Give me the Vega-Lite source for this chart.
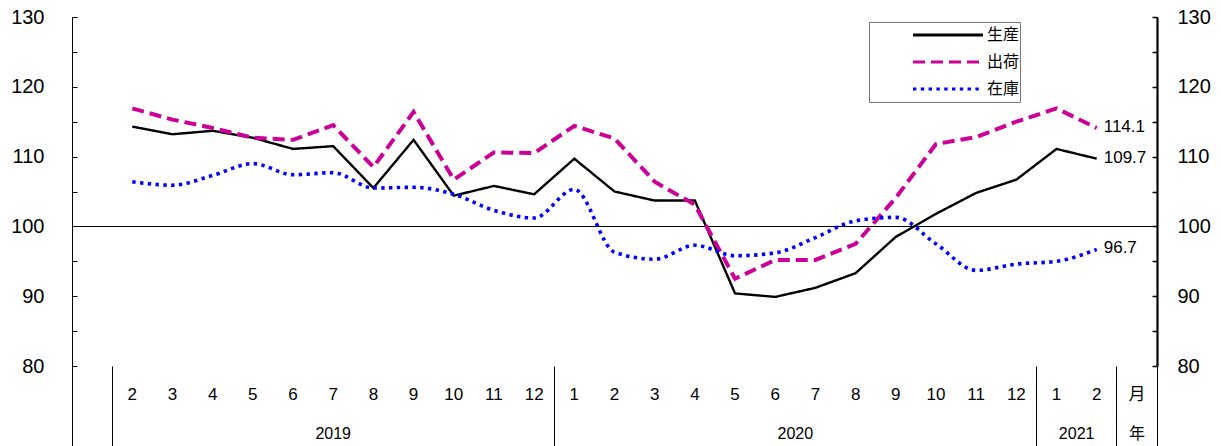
{
  "$schema": "https://vega.github.io/schema/vega-lite/v6.json",
  "width": 1085,
  "height": 349,
  "autosize": {"type": "none"},
  "padding": {"left": 72, "top": 17, "right": 64, "bottom": 80},
  "background": "white",
  "config": {
    "view": {"stroke": null},
    "font": "Liberation Sans",
    "axis": {"domainColor": "black", "tickColor": "black", "labelColor": "black", "title": null}
  },
  "datasets": {
    "vals": [
      {"m": "2019-02", "series": "生産", "v": 114.3}, {"m": "2019-03", "series": "生産", "v": 113.2}, {"m": "2019-04", "series": "生産", "v": 113.7},
      {"m": "2019-05", "series": "生産", "v": 112.7}, {"m": "2019-06", "series": "生産", "v": 111.1}, {"m": "2019-07", "series": "生産", "v": 111.5},
      {"m": "2019-08", "series": "生産", "v": 105.5}, {"m": "2019-09", "series": "生産", "v": 112.4}, {"m": "2019-10", "series": "生産", "v": 104.4},
      {"m": "2019-11", "series": "生産", "v": 105.8}, {"m": "2019-12", "series": "生産", "v": 104.6}, {"m": "2020-01", "series": "生産", "v": 109.7},
      {"m": "2020-02", "series": "生産", "v": 105.0}, {"m": "2020-03", "series": "生産", "v": 103.7}, {"m": "2020-04", "series": "生産", "v": 103.7},
      {"m": "2020-05", "series": "生産", "v": 90.4}, {"m": "2020-06", "series": "生産", "v": 89.9}, {"m": "2020-07", "series": "生産", "v": 91.2},
      {"m": "2020-08", "series": "生産", "v": 93.3}, {"m": "2020-09", "series": "生産", "v": 98.5}, {"m": "2020-10", "series": "生産", "v": 101.8},
      {"m": "2020-11", "series": "生産", "v": 104.8}, {"m": "2020-12", "series": "生産", "v": 106.7}, {"m": "2021-01", "series": "生産", "v": 111.1},
      {"m": "2021-02", "series": "生産", "v": 109.7},
      {"m": "2019-02", "series": "出荷", "v": 116.9}, {"m": "2019-03", "series": "出荷", "v": 115.3}, {"m": "2019-04", "series": "出荷", "v": 114.1},
      {"m": "2019-05", "series": "出荷", "v": 112.7}, {"m": "2019-06", "series": "出荷", "v": 112.4}, {"m": "2019-07", "series": "出荷", "v": 114.5},
      {"m": "2019-08", "series": "出荷", "v": 108.5}, {"m": "2019-09", "series": "出荷", "v": 116.4}, {"m": "2019-10", "series": "出荷", "v": 106.7},
      {"m": "2019-11", "series": "出荷", "v": 110.6}, {"m": "2019-12", "series": "出荷", "v": 110.5}, {"m": "2020-01", "series": "出荷", "v": 114.4},
      {"m": "2020-02", "series": "出荷", "v": 112.6}, {"m": "2020-03", "series": "出荷", "v": 106.4}, {"m": "2020-04", "series": "出荷", "v": 103.1},
      {"m": "2020-05", "series": "出荷", "v": 92.5}, {"m": "2020-06", "series": "出荷", "v": 95.2}, {"m": "2020-07", "series": "出荷", "v": 95.2},
      {"m": "2020-08", "series": "出荷", "v": 97.5}, {"m": "2020-09", "series": "出荷", "v": 104.1}, {"m": "2020-10", "series": "出荷", "v": 111.8},
      {"m": "2020-11", "series": "出荷", "v": 112.8}, {"m": "2020-12", "series": "出荷", "v": 115.0}, {"m": "2021-01", "series": "出荷", "v": 116.9},
      {"m": "2021-02", "series": "出荷", "v": 114.1},
      {"m": "2019-02", "series": "在庫", "v": 106.4}, {"m": "2019-03", "series": "在庫", "v": 105.9}, {"m": "2019-04", "series": "在庫", "v": 107.3},
      {"m": "2019-05", "series": "在庫", "v": 109.0}, {"m": "2019-06", "series": "在庫", "v": 107.4}, {"m": "2019-07", "series": "在庫", "v": 107.7},
      {"m": "2019-08", "series": "在庫", "v": 105.5}, {"m": "2019-09", "series": "在庫", "v": 105.6}, {"m": "2019-10", "series": "在庫", "v": 104.6},
      {"m": "2019-11", "series": "在庫", "v": 102.3}, {"m": "2019-12", "series": "在庫", "v": 101.2}, {"m": "2020-01", "series": "在庫", "v": 105.3},
      {"m": "2020-02", "series": "在庫", "v": 96.3}, {"m": "2020-03", "series": "在庫", "v": 95.3}, {"m": "2020-04", "series": "在庫", "v": 97.3},
      {"m": "2020-05", "series": "在庫", "v": 95.8}, {"m": "2020-06", "series": "在庫", "v": 96.2}, {"m": "2020-07", "series": "在庫", "v": 98.4},
      {"m": "2020-08", "series": "在庫", "v": 100.8}, {"m": "2020-09", "series": "在庫", "v": 101.3}, {"m": "2020-10", "series": "在庫", "v": 97.5},
      {"m": "2020-11", "series": "在庫", "v": 93.7}, {"m": "2020-12", "series": "在庫", "v": 94.6}, {"m": "2021-01", "series": "在庫", "v": 95.0},
      {"m": "2021-02", "series": "在庫", "v": 96.7}
    ],
    "years_mid": [
      {"m": "2019-07", "t": "2019"},
      {"m": "月", "t": "年"}
    ],
    "years_edge": [
      {"m": "2020-06", "t": "2020"},
      {"m": "2021-01", "t": "2021"}
    ]
  },
  "encoding": {
    "x": {
      "field": "m",
      "type": "nominal",
      "bandPosition": 0.5,
      "scale": {
        "type": "band",
        "paddingInner": 0,
        "paddingOuter": 0,
        "domain": ["x0", "2019-02", "2019-03", "2019-04", "2019-05", "2019-06", "2019-07", "2019-08", "2019-09", "2019-10", "2019-11", "2019-12",
                   "2020-01", "2020-02", "2020-03", "2020-04", "2020-05", "2020-06", "2020-07", "2020-08", "2020-09", "2020-10", "2020-11", "2020-12",
                   "2021-01", "2021-02", "月"]
      },
      "axis": {
        "orient": "bottom",
        "title": null,
        "domain": false,
        "bandPosition": 1,
        "tickExtra": true,
        "tickSize": 80,
        "tickWidth": 1,
        "tickColor": "black",
        "tickOpacity": {"condition": {"test": "datum.value == null || indexof(['x0','2019-12','2020-12','2021-02','月'], datum.value) >= 0", "value": 1}, "value": 0},
        "labelExpr": "(datum.value == null || datum.value == 'x0') ? '' : (datum.value == '月' ? '月' : '' + parseInt(substring(datum.value, 5)))",
        "labelPadding": -52,
        "labelBaseline": "middle",
        "labelAngle": 0,
        "labelFont": "Liberation Sans, Noto Sans CJK JP",
        "labelFontSize": 17,
        "labelColor": "black",
        "labelOverlap": false,
        "labelBound": false
      }
    }
  },
  "layer": [
    {
      "data": {"name": "vals"},
      "transform": [{"filter": "datum.series == '生産'"}],
      "mark": {"type": "line", "strokeWidth": 2.4, "interpolate": "linear"},
      "encoding": {
        "y": {
          "field": "v", "type": "quantitative",
          "scale": {"domain": [80, 130], "nice": false, "zero": false},
          "axis": {
            "orient": "left", "title": null,
            "values": [80, 85, 90, 95, 100, 105, 110, 115, 120, 125, 130],
            "labelExpr": "datum.value % 10 == 0 ? datum.label : ''",
            "tickSize": -5, "tickWidth": 1, "domainWidth": 1,
            "labelPadding": 33, "labelFontSize": 20, "labelFont": "Liberation Sans",
            "grid": true, "gridColor": "black", "gridWidth": 1,
            "gridOpacity": {"condition": {"test": "datum.value == 100", "value": 1}, "value": 0}
          }
        },
        "color": {
          "field": "series", "type": "nominal",
          "scale": {"domain": ["生産", "出荷", "在庫"], "range": ["#000000", "#CC0099", "#0000FF"]},
          "legend": {
            "title": null,
            "orient": "none",
            "legendX": 797,
            "legendY": 5,
            "padding": 0,
            "symbolType": "stroke",
            "symbolSize": 4900,
            "symbolStrokeWidth": 3.2,
            "symbolOffset": 42,
            "labelOffset": 2,
            "clipHeight": 26,
            "rowPadding": 1,
            "labelFont": "Noto Sans CJK JP",
            "labelFontSize": 16,
            "labelColor": "black",
            "labelExpr": "datum.label + '\u00a0\u00a0\u00a0\u00a0\u00a0\u00a0\u00a0\u00a0\u00a0\u00a0\u00a0\u00a0\u00a0\u00a0\u00a0\u00a0\u00a0\u00a0\u00a0\u00a0\u00a0\u00a0\u00a0\u00a0'",
            "strokeColor": "#777777",
            "fillColor": "white"
          }
        },
        "strokeDash": {
          "field": "series", "type": "nominal",
          "scale": {"domain": ["生産", "出荷", "在庫"], "range": [[1, 0], [12, 6], [3.4, 4.4]]}
        }
      }
    },
    {
      "data": {"name": "vals"},
      "transform": [{"filter": "datum.series == '出荷'"}],
      "mark": {"type": "line", "strokeWidth": 4, "interpolate": "linear"},
      "encoding": {
        "y": {
          "field": "v", "type": "quantitative",
          "scale": {"domain": [80, 130], "nice": false, "zero": false},
          "axis": {
            "orient": "right", "title": null,
            "values": [80, 85, 90, 95, 100, 105, 110, 115, 120, 125, 130],
            "labelExpr": "datum.value % 10 == 0 ? datum.label : ''",
            "tickSize": -5, "tickWidth": 1.5, "domainWidth": 2.2,
            "labelPadding": 25, "labelFontSize": 20, "labelFont": "Liberation Sans",
            "grid": false
          }
        },
        "color": {
          "field": "series", "type": "nominal",
          "scale": {"domain": ["生産", "出荷", "在庫"], "range": ["#000000", "#CC0099", "#0000FF"]}
        },
        "strokeDash": {
          "field": "series", "type": "nominal",
          "scale": {"domain": ["生産", "出荷", "在庫"], "range": [[1, 0], [12, 6], [3.4, 4.4]]}
        }
      }
    },
    {
      "data": {"name": "vals"},
      "transform": [{"filter": "datum.series == '在庫'"}],
      "mark": {"type": "line", "strokeWidth": 3.6, "interpolate": "monotone"},
      "encoding": {
        "y": {
          "field": "v", "type": "quantitative",
          "scale": {"domain": [80, 130], "nice": false, "zero": false},
          "axis": null
        },
        "color": {
          "field": "series", "type": "nominal",
          "scale": {"domain": ["生産", "出荷", "在庫"], "range": ["#000000", "#CC0099", "#0000FF"]}
        },
        "strokeDash": {
          "field": "series", "type": "nominal",
          "scale": {"domain": ["生産", "出荷", "在庫"], "range": [[1, 0], [12, 6], [3.4, 4.4]]}
        }
      }
    },
    {
      "data": {"name": "vals"},
      "transform": [{"filter": "datum.m == '2021-02'"}],
      "mark": {"type": "text", "align": "left", "baseline": "middle", "dx": 7, "dy": -1, "fontSize": 17, "font": "Liberation Sans", "color": "black"},
      "encoding": {
        "y": {
          "field": "v", "type": "quantitative",
          "scale": {"domain": [80, 130], "nice": false, "zero": false},
          "axis": null
        },
        "text": {"field": "v", "type": "quantitative", "format": ".1f"}
      }
    },
    {
      "data": {"name": "years_mid"},
      "mark": {"type": "text", "align": "center", "baseline": "middle", "fontSize": 16, "font": "Liberation Sans, Noto Sans CJK JP", "color": "black"},
      "encoding": {
        "y": {"datum": 70.3, "scale": {"domain": [80, 130], "nice": false, "zero": false}, "axis": null},
        "text": {"field": "t", "type": "nominal"}
      }
    },
    {
      "data": {"name": "years_edge"},
      "mark": {"type": "text", "align": "center", "baseline": "middle", "fontSize": 16, "font": "Liberation Sans", "color": "black"},
      "encoding": {
        "x": {"field": "m", "type": "nominal", "bandPosition": 1},
        "y": {"datum": 70.3, "scale": {"domain": [80, 130], "nice": false, "zero": false}, "axis": null},
        "text": {"field": "t", "type": "nominal"}
      }
    }
  ],
  "resolve": {"scale": {"y": "independent"}, "axis": {"y": "independent"}}
}
